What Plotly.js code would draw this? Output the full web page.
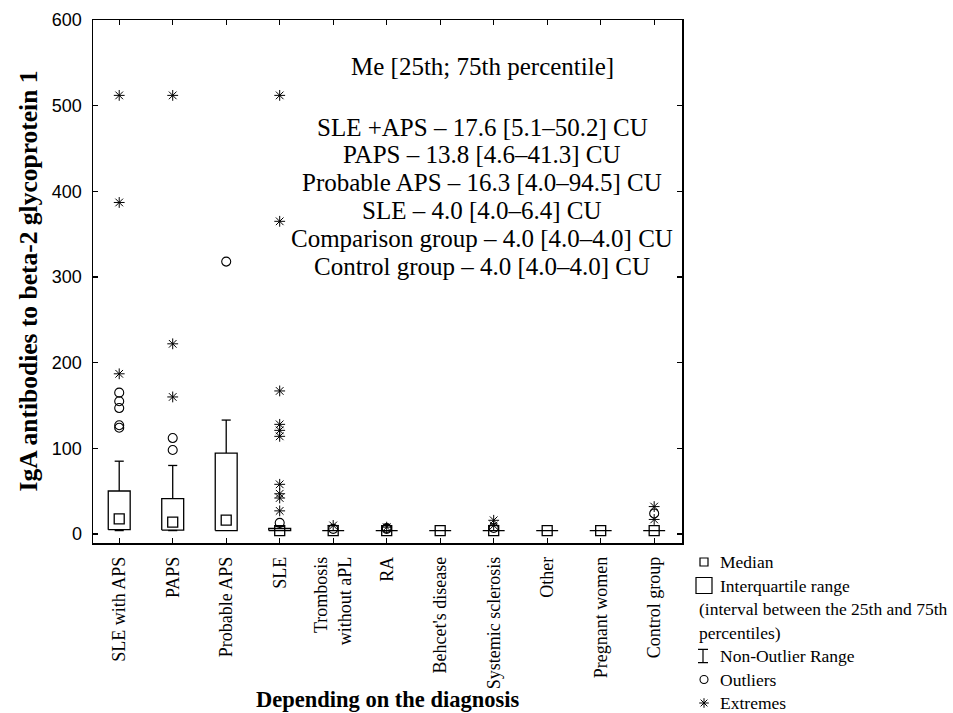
<!DOCTYPE html>
<html>
<head>
<meta charset="utf-8">
<script src="https://cdn.plot.ly/plotly-3.0.1.min.js"></script>
<style>html,body{margin:0;padding:0;background:#fff;}#chart{width:953px;height:713px;}</style>
</head>
<body>
<div id="chart"></div>
<script>
// ---- data ----
const categories = ['SLE with APS', 'PAPS', 'Probable APS', 'SLE', 'Trombosis<br>without aPL', 'RA',
  "Behcet's disease", 'Systemic sclerosis', 'Other', 'Pregnant women', 'Control group'];
const medians = [17.6, 13.8, 16.3, 4.0, 4.0, 4.0, 4.0, 4.0, 4.0, 4.0, 4.0];
const q1 = [5.1, 4.6, 4.0, 4.0, 4.0, 4.0, 4.0, 4.0, 4.0, 4.0, 4.0];
const q3 = [50.2, 41.3, 94.5, 6.4, 4.0, 4.0, 4.0, 4.0, 4.0, 4.0, 4.0];
const whiskerLow = [4.0, 4.0, 4.0, 4.0, 4.0, 4.0, 4.0, 4.0, 4.0, 4.0, 4.0];
const whiskerHigh = [85, 80, 133, 9, 4.0, 4.0, 4.0, 4.0, 4.0, 4.0, 4.0];
const outliers = [[165, 155, 147, 127, 124], [112, 98], [318], [13], [6], [6, 7], [], [7], [], [], [24]];
const extremes = [[512, 387, 187], [512, 222, 160], [], [512, 365, 167, 128, 121, 114, 58, 47, 42, 27],
  [10], [8], [], [16, 10], [], [], [32, 17]];
const yTicks = [0, 100, 200, 300, 400, 500, 600];
const statsTitle = 'Me [25th; 75th percentile]';
const statsLines = ['SLE +APS \u2013 17.6 [5.1\u201350.2] CU', 'PAPS \u2013 13.8 [4.6\u201341.3] CU',
  'Probable APS \u2013 16.3 [4.0\u201394.5] CU', 'SLE \u2013 4.0 [4.0\u20136.4] CU',
  'Comparison group \u2013 4.0 [4.0\u20134.0] CU', 'Control group \u2013 4.0 [4.0\u20134.0] CU'];
const legendLabels = ['Median', 'Interquartile range', '(interval between the 25th and 75th', 'percentiles)',
  'Non-Outlier Range', 'Outliers', 'Extremes'];

// ---- geometry (layout only) ----
const W = 953, H = 713, ML = 93, MT = 20, MB = 0, MR = 0;
const plotRight = 682, plotBottom = 543, legendLeft = 690, legendTop = 550;
const paperW = W - ML - MR, paperH = H - MT - MB;
const px2x = px => (px - ML) / paperW;
const px2y = py => (H - MB - py) / paperH;
const BW = 0.205, CW = 0.085;
const serif = 'Liberation Serif, Times New Roman, serif';
const sans = 'Liberation Sans, Arial, sans-serif';

// boxes
const bx = [], by = [];
categories.forEach((c, i) => {
  bx.push(i - BW, i + BW, i + BW, i - BW, i - BW, null);
  by.push(q1[i], q1[i], q3[i], q3[i], q1[i], null);
});
// whiskers
const wx = [], wy = [];
categories.forEach((c, i) => {
  if (whiskerHigh[i] > q3[i]) {
    wx.push(i, i, null, i - CW, i + CW, null);
    wy.push(q3[i], whiskerHigh[i], null, whiskerHigh[i], whiskerHigh[i], null);
  }
  if (whiskerLow[i] < q1[i]) {
    wx.push(i, i, null, i - CW, i + CW, null);
    wy.push(q1[i], whiskerLow[i], null, whiskerLow[i], whiskerLow[i], null);
  }
});
const ox = [], oy = [], ex = [], ey = [];
outliers.forEach((arr, i) => arr.forEach(v => { ox.push(i); oy.push(v); }));
extremes.forEach((arr, i) => arr.forEach(v => { ex.push(i); ey.push(v); }));

const blk = '#000';
const traces = [
  {type: 'scatter', mode: 'lines', x: bx, y: by, line: {color: blk, width: 1.3}, hoverinfo: 'skip', showlegend: false},
  {type: 'scatter', mode: 'lines', x: wx, y: wy, line: {color: blk, width: 1.3}, hoverinfo: 'skip', showlegend: false},
  {type: 'scatter', mode: 'markers', x: categories.map((c, i) => i), y: medians, showlegend: false,
    marker: {symbol: 'square-open', size: 10, color: blk, line: {color: blk, width: 1.3}}},
  {type: 'scatter', mode: 'markers', x: ox, y: oy, showlegend: false,
    marker: {symbol: 'circle-open', size: 9, color: blk, line: {color: blk, width: 1.1}}},
  {type: 'scatter', mode: 'markers', x: ex, y: ey, showlegend: false,
    marker: {symbol: 'asterisk-open', size: 9, color: blk, line: {color: blk, width: 1}}},
  // legend symbols (rows of the legend block)
  {type: 'scatter', mode: 'markers', xaxis: 'x2', yaxis: 'y2', x: [14], y: [0], showlegend: false, hoverinfo: 'skip',
    marker: {symbol: 'square-open', size: 8, color: blk, line: {color: blk, width: 1.2}}},
  {type: 'scatter', mode: 'markers', xaxis: 'x2', yaxis: 'y2', x: [14], y: [1], showlegend: false, hoverinfo: 'skip',
    marker: {symbol: 'square-open', size: 16, color: blk, line: {color: blk, width: 1.2}}},
  {type: 'scatter', mode: 'markers', xaxis: 'x2', yaxis: 'y2', x: [13], y: [4], showlegend: false, hoverinfo: 'skip',
    marker: {size: 1, color: 'rgba(0,0,0,0)'},
    error_y: {type: 'constant', value: 0.28, width: 5, color: blk, thickness: 1.2}},
  {type: 'scatter', mode: 'markers', xaxis: 'x2', yaxis: 'y2', x: [14], y: [5], showlegend: false, hoverinfo: 'skip',
    marker: {symbol: 'circle-open', size: 8, color: blk, line: {color: blk, width: 1.1}}},
  {type: 'scatter', mode: 'markers', xaxis: 'x2', yaxis: 'y2', x: [14], y: [6], showlegend: false, hoverinfo: 'skip',
    marker: {symbol: 'asterisk-open', size: 8, color: blk, line: {color: blk, width: 1}}}
];

const annotations = [];
annotations.push({xref: 'paper', yref: 'paper', x: px2x(482), y: px2y(67), text: statsTitle, showarrow: false,
  xanchor: 'center', yanchor: 'middle', font: {family: serif, size: 25, color: blk}});
statsLines.forEach((t, k) => annotations.push({xref: 'paper', yref: 'paper', x: px2x(482), y: px2y(127 + 27.8 * k),
  text: t, showarrow: false, xanchor: 'center', yanchor: 'middle', font: {family: serif, size: 25, color: blk}}));
const legendX = [28, 28, 7, 7, 28, 28, 28];
legendLabels.forEach((t, k) => annotations.push({xref: 'x2', yref: 'y2', x: legendX[k], y: k, text: t,
  showarrow: false, xanchor: 'left', yanchor: 'middle', font: {family: serif, size: 17.5, color: blk}}));
// axis titles
annotations.push({xref: 'paper', yref: 'paper', x: px2x((ML + plotRight) / 2), y: px2y(699),
  text: '<b>Depending on the diagnosis</b>', showarrow: false, xanchor: 'center', yanchor: 'middle',
  font: {family: serif, size: 22.5, color: blk}});
annotations.push({xref: 'paper', yref: 'paper', x: px2x(28), y: px2y((MT + plotBottom) / 2),
  text: '<b>IgA antibodies to beta-2 glycoprotein 1</b>', showarrow: false, textangle: -90,
  xanchor: 'center', yanchor: 'middle', font: {family: serif, size: 25.5, color: blk}});

const layout = {
  width: W, height: H,
  margin: {l: ML, r: MR, t: MT, b: MB, pad: 0},
  paper_bgcolor: '#fff', plot_bgcolor: '#fff',
  font: {family: serif, color: blk},
  showlegend: false,
  xaxis: {
    domain: [0, px2x(plotRight)], range: [-0.49, 10.52],
    tickmode: 'array', tickvals: categories.map((c, i) => i), ticktext: categories,
    tickangle: -90, tickfont: {family: serif, size: 18, color: blk},
    ticks: 'inside', ticklen: 5, tickwidth: 1.2, tickcolor: blk,
    showline: true, linecolor: blk, linewidth: 1.5, mirror: 'ticks',
    showgrid: false, zeroline: false, ticklabelstandoff: 5, automargin: false, fixedrange: true
  },
  yaxis: {
    domain: [px2y(plotBottom), 1], range: [-10.5, 600],
    tickmode: 'array', tickvals: yTicks, ticktext: yTicks.map(String),
    tickfont: {family: sans, size: 18, color: blk},
    ticks: 'inside', ticklen: 5, tickwidth: 1.2, tickcolor: blk,
    showline: true, linecolor: blk, linewidth: 1.5, mirror: 'ticks',
    showgrid: false, zeroline: false, ticklabelstandoff: 6, automargin: false, fixedrange: true
  },
  xaxis2: {domain: [px2x(legendLeft), 1], range: [0, W - legendLeft], anchor: 'y2', visible: false, fixedrange: true},
  yaxis2: {domain: [0, px2y(legendTop)], range: [(H - 562) / 23.5, -(562 - legendTop) / 23.5], anchor: 'x2', visible: false, fixedrange: true},
  annotations: annotations
};

Plotly.newPlot('chart', traces, layout, {displayModeBar: false, staticPlot: true});
</script>
</body>
</html>
